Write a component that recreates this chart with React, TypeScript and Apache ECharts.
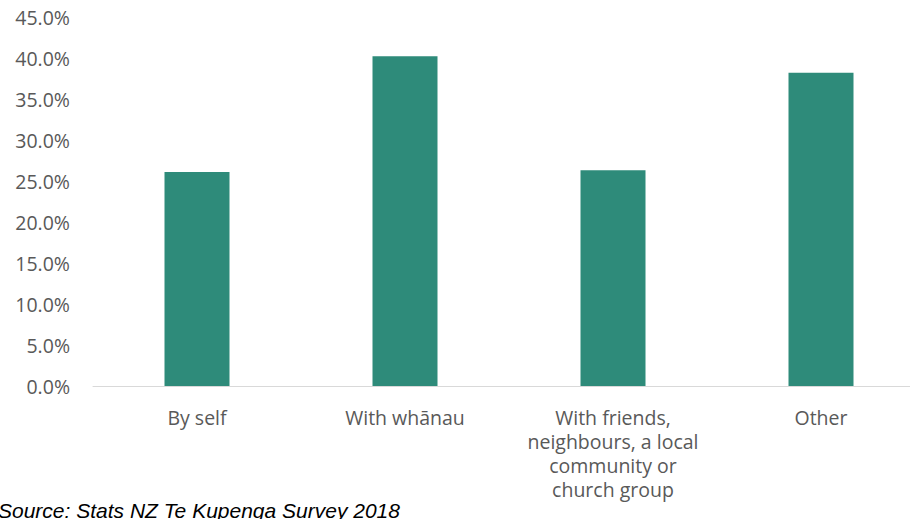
import React, { useEffect, useRef } from "react";
import * as echarts from "echarts";

const categories = [
  "By self",
  "With whānau",
  "With friends,\nneighbours, a local\ncommunity or\nchurch group",
  "Other",
];
const values = [26.1, 40.2, 26.3, 38.2];
const sourceText = "Source: Stats NZ Te Kupenga Survey 2018";

export default function App() {
  const ref = useRef<HTMLDivElement>(null);
  useEffect(() => {
    if (!ref.current) return;
    const chart = echarts.init(ref.current, null, { renderer: "svg" });
    const font = "'Open Sans', sans-serif";
    chart.setOption({
      animation: false,
      grid: { left: 93, top: 17, width: 832, height: 369 },
      xAxis: {
        type: "category",
        data: categories,
        axisLine: { lineStyle: { color: "#d9d9d9", width: 1 } },
        axisTick: { show: false },
        axisLabel: {
          color: "#595959",
          fontSize: 19.5,
          fontFamily: font,
          lineHeight: 24,
          margin: 19,
          interval: 0,
        },
      },
      yAxis: {
        type: "value",
        min: 0,
        max: 45,
        interval: 5,
        splitLine: { show: false },
        axisLine: { show: false },
        axisTick: { show: false },
        axisLabel: {
          color: "#595959",
          fontSize: 19.5,
          fontFamily: font,
          margin: 23,
          formatter: (v: number) => v.toFixed(1) + "%",
        },
      },
      series: [
        {
          type: "bar",
          data: values,
          barWidth: 65,
          itemStyle: { color: "#2e8b7a" },
        },
      ],
      graphic: [
        {
          type: "text",
          left: -2,
          top: 500,
          style: {
            text: sourceText,
            fontSize: 21,
            fontStyle: "italic",
            fontFamily: "'Liberation Sans', Arial, sans-serif",
            fill: "#000000",
          },
        },
      ],
    });
    return () => chart.dispose();
  }, []);
  return (
    <div style={{ position: "fixed", left: 0, top: 0, width: 910, height: 519, overflow: "hidden", background: "#fff" }}>
      <div ref={ref} style={{ width: 940, height: 519 }} />
    </div>
  );
}
